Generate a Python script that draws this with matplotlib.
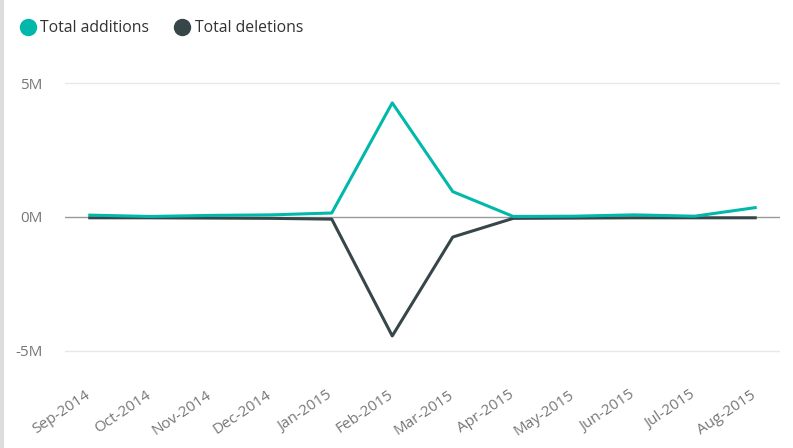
import matplotlib.pyplot as plt
import matplotlib.transforms as mtransforms
import numpy as np
from matplotlib.lines import Line2D

months = ['Sep-2014', 'Oct-2014', 'Nov-2014', 'Dec-2014', 'Jan-2015', 'Feb-2015',
          'Mar-2015', 'Apr-2015', 'May-2015', 'Jun-2015', 'Jul-2015', 'Aug-2015']
additions = [0.07, 0.02, 0.06, 0.08, 0.15, 4.27, 0.95, 0.02, 0.03, 0.08, 0.03, 0.35]
deletions = [-0.03, -0.03, -0.04, -0.05, -0.08, -4.45, -0.75, -0.05, -0.04, -0.03, -0.03, -0.03]

teal = '#01B8AA'
dark = '#374649'
plt.rcParams['font.family'] = ['Open Sans', 'DejaVu Sans']

fig = plt.figure(figsize=(7.93, 4.48), dpi=100)
ax = fig.add_axes([65/793, 1-364/448, 715/793, 294/448])
x = np.arange(len(months))

ax.axhline(5, color='#e8e8e8', lw=1, zorder=0)
ax.axhline(-5, color='#e8e8e8', lw=1, zorder=0)
ax.axhline(0, color='#999999', lw=1, zorder=1)
ax.plot(x, additions, color=teal, lw=2.2, zorder=3)
ax.plot(x, deletions, color=dark, lw=2.2, zorder=2)

ax.set_xlim(-0.41, 11.41)
ax.set_ylim(-5.5, 5.5)
ax.set_yticks([-5, 0, 5])
ax.set_yticklabels(['-5M', '0M', '5M'])
ax.set_xticks(x)
ax.set_xticklabels(months, rotation=34, ha='right', rotation_mode='anchor')
ax.tick_params(length=0, labelsize=11, labelcolor='#777777')
ax.tick_params(axis='y', pad=16)
ax.tick_params(axis='x', pad=17)
shift = mtransforms.ScaledTranslation(-5/100, 0, fig.dpi_scale_trans)
for lab in ax.get_xticklabels():
    lab.set_transform(lab.get_transform() + shift)
for s in ax.spines.values():
    s.set_visible(False)

handles = [Line2D([], [], marker='o', ls='', color=teal, markersize=11.5),
           Line2D([], [], marker='o', ls='', color=dark, markersize=11.5)]
fig.legend(handles, ['Total additions', 'Total deletions'], loc='upper left',
           bbox_to_anchor=(4/793, 1-6/448), ncol=2, frameon=False, fontsize=11.3,
           handletextpad=0.2, columnspacing=1.5, labelcolor='#333333', handlelength=1.2)

fig.add_artist(Line2D([1.5/793, 1.5/793], [0, 1], color='#dddddd', lw=3))

fig.savefig('out.png', dpi=100, facecolor='white')
